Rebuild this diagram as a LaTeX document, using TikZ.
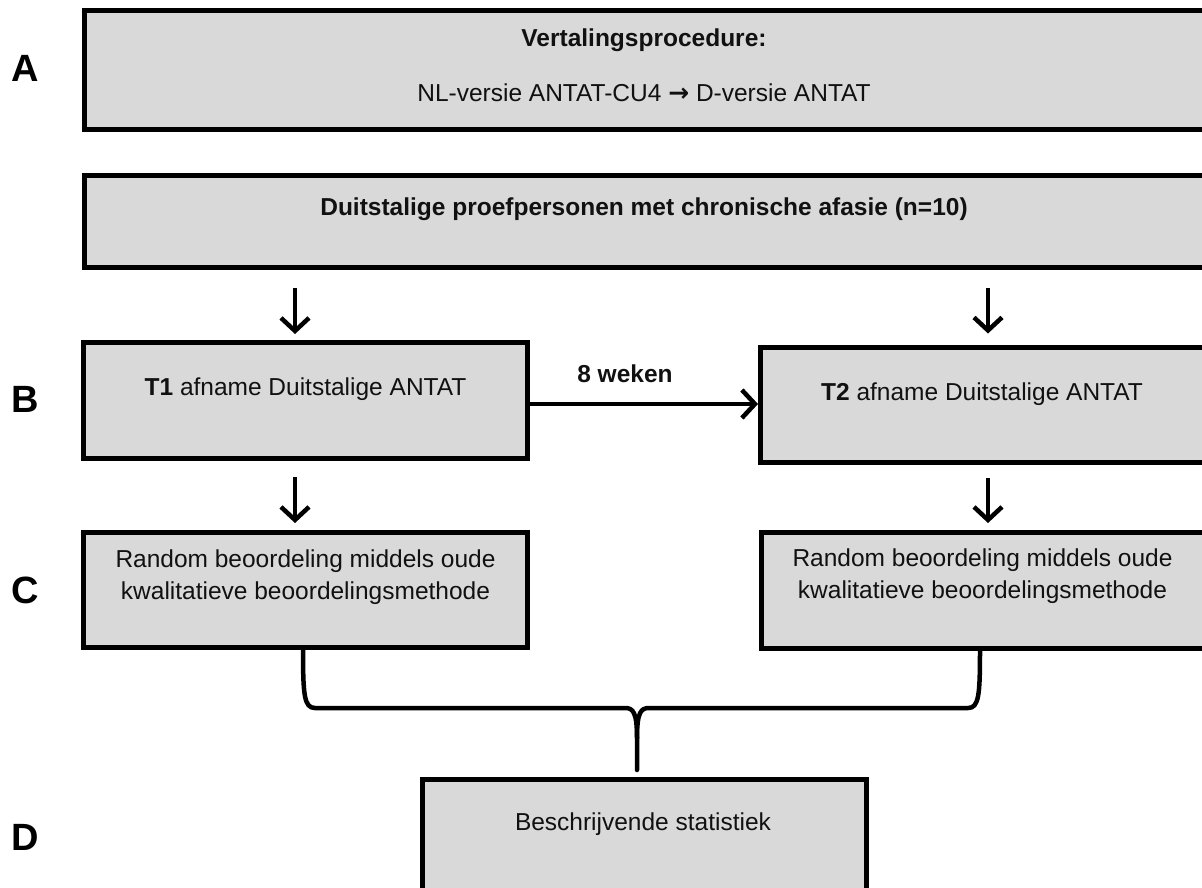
\documentclass[tikz,border=0pt]{standalone}
\usepackage{fontspec}
\setmainfont{Liberation Sans}
\newfontfamily\arrowfont{DejaVu Sans}
\usetikzlibrary{arrows.meta,calc}
\definecolor{boxgray}{HTML}{D9D9D9}
\definecolor{textc}{HTML}{111111}
\tikzset{
  box/.style={draw=black, line width=5pt, fill=boxgray, outer sep=0pt, inner sep=0pt},
  txt/.style={anchor=base, inner sep=0pt, font=\fontsize{24.5}{30}\selectfont, text=textc},
  btxt/.style={txt, font=\fontsize{24.5}{30}\selectfont\bfseries},
  lbl/.style={anchor=base, inner sep=0pt, font=\fontsize{38}{40}\selectfont\bfseries, text=black},
  arr/.style={line width=4.5pt, -{Straight Barb[length=13pt,width=28pt]}},
  bracel/.style={line width=4.5pt, line cap=round, line join=round}
}
\begin{document}
\begin{tikzpicture}[x=1pt,y=-1pt]
\clip (0,0) rectangle (1202,888);
\fill[white] (0,0) rectangle (1202,888);

% row labels
\node[lbl] (la) at (25,82) {A};
\node[lbl] (lb) at (25,412) {B};
\node[lbl] (lc) at (25,603) {C};
\node[lbl] (ld) at (25,850) {D};

% boxes
\node[box, minimum width=1124pt, minimum height=119pt] (a) at (646.5,70) {};
\node[box, minimum width=1124pt, minimum height=92pt] (b0) at (646.5,221.5) {};
\node[box, minimum width=444pt, minimum height=116pt] (t1) at (305.5,400.5) {};
\node[box, minimum width=448pt, minimum height=115pt] (t2) at (984.5,405) {};
\node[box, minimum width=444pt, minimum height=115pt] (c1) at (305.5,590) {};
\node[box, minimum width=447pt, minimum height=116pt] (c2) at (985,590.5) {};
\node[box, minimum width=444pt, minimum height=220pt] (d) at (644.5,889.5) {};

% texts
\node[btxt] (ta1) at (644,47) {Vertalingsprocedure:};
\node[txt] (ta2) at (644,102) {NL-versie ANTAT-CU4 {\arrowfont\bfseries\fontsize{25}{28}\selectfont →} D-versie ANTAT};
\node[btxt] (tb0) at (644,215) {Duitstalige proefpersonen met chronische afasie (n=10)};
\node[txt] (tt1) at (305.5,395) {\textbf{T1} afname Duitstalige ANTAT};
\node[txt] (tt2) at (982,400) {\textbf{T2} afname Duitstalige ANTAT};
\node[txt] (tc1a) at (305.5,567) {Random beoordeling middels oude};
\node[txt] (tc1b) at (305.5,599) {kwalitatieve beoordelingsmethode};
\node[txt] (tc2a) at (982.5,566) {Random beoordeling middels oude};
\node[txt] (tc2b) at (982.5,598) {kwalitatieve beoordelingsmethode};
\node[txt] (td) at (643,830) {Beschrijvende statistiek};
\node[btxt] (tw) at (625,382) {8 weken};

% helper coordinates
\coordinate (xl) at (295,0);
\coordinate (xr) at (988,0);
\coordinate (yh) at (0,404);

% arrows
\draw[arr, shorten <=20.5pt, shorten >=8.5pt] (b0.south -| xl) -- (t1.north -| xl);
\draw[arr, shorten <=20.5pt, shorten >=14pt] (b0.south -| xr) -- (t2.north -| xr);
\draw[arr, shorten <=18.5pt, shorten >=9.5pt] (t1.south -| xl) -- (c1.north -| xl);
\draw[arr, shorten <=15.5pt, shorten >=9.5pt] (t2.south -| xr) -- (c2.north -| xr);
\draw[arr, shorten >=2.5pt] (t1.east |- yh) -- (t2.west |- yh);

% brace joining C1 and C2 towards D
\coordinate (cusp) at ($(d.north)+(-7.5,-9.5)$);
\draw[bracel] ([xshift=-2.5pt]c1.south) .. controls (303,695) and (304,708) .. (315,708)
  -- (625,708) .. controls (633,708) and (637,712) .. (637,738) -- (cusp);
\draw[bracel] ([xshift=-5pt]c2.south) .. controls (980,695) and (979,708) .. (968,708)
  -- (649,708) .. controls (641,708) and (637,712) .. (637,738);
\end{tikzpicture}
\end{document}
